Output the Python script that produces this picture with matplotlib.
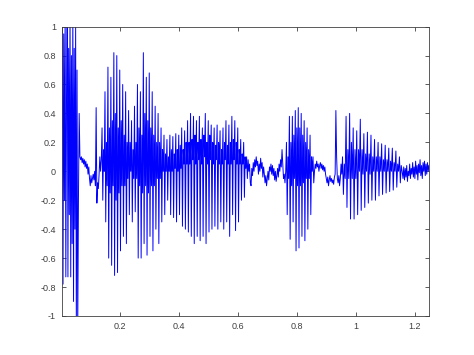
import numpy as np
import matplotlib
matplotlib.use("Agg")
import matplotlib.pyplot as plt

# waveform, one list per stretch of the recording
# (values are turning points, roughly 4 per pitch period in voiced parts)
onset = [0.3, 1.1, -0.78, 0.95, -0.2, 1.1, -0.73, 0.5, 1.1, -0.73, 0.85, -0.3,
         1.1, -0.73, 0.8, -0.5, 1.1, -0.9, 0.85, -0.4, 1.0, -1.1, 0.7, -1.1]

pause1 = [-0.2, 0.4, 0.1, 0.08, 0.1, 0.06, 0.09, 0.05, 0.08, 0.03, 0.07, 0.02,
          0.05, -0.02, 0.03, -0.05, -0.1, -0.03, -0.08, -0.05, -0.02, -0.06, 0.0, -0.1,
          0.44, -0.22, -0.08, -0.12, -0.02, 0.1, 0.0, 0.08]

vowel1 = [0.3, -0.2, 0.15, 0.0, 0.55, -0.35, 0.2, -0.1, 0.72, -0.6, 0.3, -0.15,
          0.65, -0.65, 0.35, -0.1, 0.82, -0.72, 0.4, -0.2, 0.8, -0.7, 0.3, -0.15,
          0.7, -0.55, 0.35, -0.1, 0.6, -0.45, 0.25, -0.1, 0.55, -0.5, 0.2, -0.05,
          0.42, -0.3, 0.2, 0.0, 0.35, -0.35, 0.15, -0.05, 0.45, -0.28, 0.2, -0.05,
          0.6, -0.6, 0.3, -0.1, 0.55, -0.6, 0.25, -0.15, 0.82, -0.5, 0.4, -0.1,
          0.65, -0.58, 0.35, -0.15, 0.68, -0.45, 0.3, -0.1, 0.55, -0.55, 0.25, -0.1,
          0.45, -0.4, 0.2, -0.05, 0.4, -0.5, 0.2, -0.05, 0.3, -0.35, 0.15, 0.0,
          0.25, -0.3, 0.12, 0.0]

vowel2 = [0.22, -0.2, 0.1, 0.0, 0.25, -0.3, 0.15, 0.0, 0.24, -0.32, 0.12, 0.02,
          0.26, -0.35, 0.15, 0.0, 0.25, -0.3, 0.18, 0.02, 0.3, -0.38, 0.15, 0.05,
          0.28, -0.4, 0.2, 0.05, 0.35, -0.42, 0.2, 0.05, 0.4, -0.45, 0.22, 0.08,
          0.38, -0.5, 0.25, 0.05, 0.35, -0.45, 0.2, 0.08, 0.38, -0.48, 0.22, 0.05,
          0.3, -0.45, 0.25, 0.1, 0.4, -0.5, 0.2, 0.05, 0.35, -0.42, 0.25, 0.08,
          0.32, -0.4, 0.2, 0.05, 0.3, -0.38, 0.18, 0.08, 0.32, -0.4, 0.2, 0.05,
          0.28, -0.35, 0.15, 0.05, 0.3, -0.4, 0.2, 0.08, 0.35, -0.35, 0.18, 0.05,
          0.32, -0.45, 0.2, 0.05, 0.38, -0.3, 0.22, 0.08, 0.35, -0.41, 0.2, 0.05,
          0.3, -0.35, 0.15, 0.05, 0.22, -0.2, 0.12, 0.05, 0.2, -0.18, 0.1, 0.02,
          0.1, -0.05, 0.08, 0.0]

pause2 = [0.05, -0.08, -0.1, 0.02, -0.03, 0.06, 0.0, 0.08, 0.03, 0.1,
          0.04, 0.07, -0.02, 0.05, 0.0, 0.09, 0.02, 0.06, -0.04, 0.03,
          -0.02, -0.08, -0.03, -0.1, -0.05, 0.0, -0.06, 0.03, 0.0, 0.05,
          -0.02, 0.04, -0.03, 0.02, -0.06, 0.0, -0.07, -0.03, 0.02, -0.04,
          0.05, 0.0, 0.08, 0.03, 0.15, 0.05, -0.05, -0.02, -0.08, 0.0]

vowel3 = [0.2, -0.3, 0.1, -0.05, 0.38, -0.47, 0.2, -0.1, 0.38, -0.35, 0.25, -0.05,
          0.42, -0.55, 0.3, -0.1, 0.44, -0.53, 0.3, -0.1, 0.4, -0.45, 0.25, -0.08,
          0.35, -0.48, 0.2, -0.05, 0.3, -0.4, 0.15, -0.05, 0.25, -0.3, 0.1, 0.0,
          0.1, -0.08]

pause3 = [0.0, 0.05, 0.02, 0.07, 0.03, 0.05, 0.0, 0.04, 0.06, 0.02,
          0.05, 0.01, 0.04, 0.0, 0.03, -0.02, -0.05, -0.08, -0.04, -0.1,
          -0.06, -0.03, -0.07, -0.05, -0.08, -0.06, -0.09, -0.04, -0.02, 0.42,
          0.1, -0.05, -0.08, -0.03, -0.1, -0.05, 0.05, -0.02]

vowel4 = [0.1, -0.16, 0.05, -0.05, 0.38, -0.25, 0.15, -0.05, 0.4, -0.33, 0.2, -0.05,
          0.3, -0.33, 0.15, -0.05, 0.28, -0.3, 0.15, 0.0, 0.36, -0.27, 0.15, -0.02,
          0.26, -0.25, 0.12, 0.0, 0.27, -0.22, 0.12, -0.02, 0.25, -0.2, 0.1, 0.0,
          0.22, -0.2, 0.1, 0.0, 0.2, -0.17, 0.1, 0.0, 0.19, -0.16, 0.08, 0.0,
          0.18, -0.15, 0.08, 0.0, 0.16, -0.14, 0.07, 0.0, 0.16, -0.13, 0.06, 0.0,
          0.14, -0.11, 0.05, 0.0, 0.1, -0.08, 0.04, 0.0]

tail = [-0.05, 0.03, -0.06, 0.02, -0.04, 0.04, -0.07, 0.0, -0.03, 0.05,
        -0.05, 0.02, -0.02, 0.06, -0.04, 0.03, -0.05, 0.07, -0.02, 0.04,
        -0.06, 0.05, -0.01, 0.08, -0.03, 0.04, -0.05, 0.06, 0.0, 0.07,
        -0.03, 0.05, -0.02, 0.06, 0.0, 0.04]

# start/end time (s) of each stretch
seg_edges = [0.003, 0.06, 0.14, 0.36, 0.64, 0.765, 0.86, 0.955, 1.16, 1.248]
segments = [onset, pause1, vowel1, vowel2, pause2, vowel3, pause3, vowel4, tail]

x_ticks = [0.2, 0.4, 0.6, 0.8, 1.0, 1.2]
y_ticks = [-1, -0.8, -0.6, -0.4, -0.2, 0, 0.2, 0.4, 0.6, 0.8, 1]

t_parts = []
for i, seg in enumerate(segments):
    last = i == len(segments) - 1
    t_parts.append(np.linspace(seg_edges[i], seg_edges[i + 1], len(seg), endpoint=last))
t = np.concatenate(t_parts)
y = np.concatenate([np.asarray(s, dtype=float) for s in segments])

plt.rcParams['font.family'] = ['Liberation Sans', 'DejaVu Sans']

fig = plt.figure(figsize=(4.74, 3.55), dpi=100)
ax = fig.add_axes([0.13, 0.11, 0.775, 0.815])
ax.plot(t, y, color=(0, 0, 1), linewidth=0.7)

ax.set_xlim(seg_edges[0], seg_edges[-1])
ax.set_ylim(-1, 1)
ax.set_xticks(x_ticks)
ax.set_xticklabels([f"{v:g}" for v in x_ticks])
ax.set_yticks(y_ticks)
ax.set_yticklabels([f"{v:g}" for v in y_ticks])

axis_col = '0.25'
for sp in ax.spines.values():
    sp.set_color(axis_col)
    sp.set_linewidth(0.6)
ax.tick_params(direction='in', length=3, width=0.6, colors=axis_col,
               labelsize=6.5, top=True, right=True, pad=4)

fig.savefig("out.png", dpi=100)
